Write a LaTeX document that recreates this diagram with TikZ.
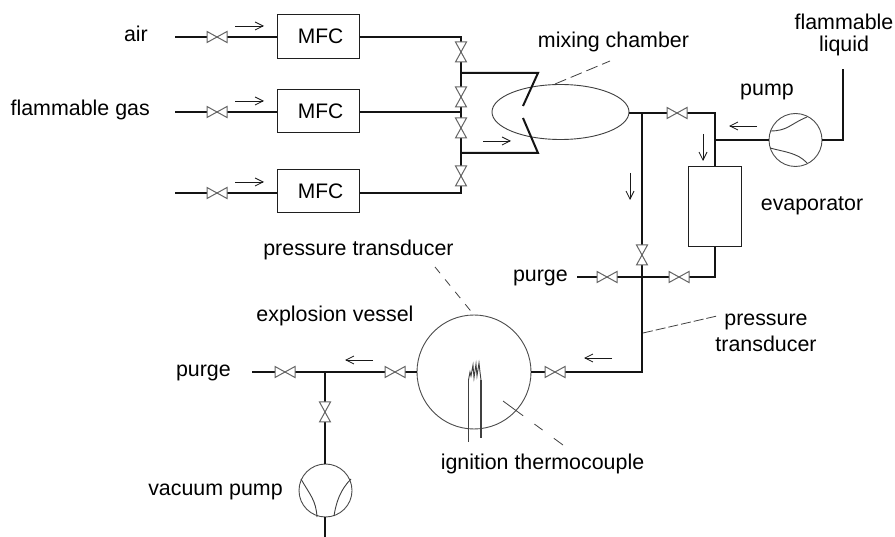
\documentclass[tikz,border=0pt]{standalone}
\usepackage{fontspec}
\setmainfont{Liberation Sans}
\usetikzlibrary{arrows.meta,shapes.geometric}
\tikzset{
  x=1pt,y=-1pt,
  pipe/.style={line width=2pt,black!92,line cap=butt,line join=miter},
  thinline/.style={line width=0.9pt,black!75},
  flow/.style={line width=0.8pt,black!90,-{Straight Barb[length=8pt,width=8pt,line width=0.8pt]}},
  leader/.style={line width=0.8pt,black!75,dash pattern=on 10pt off 6pt},
  mfc/.style={draw,line width=1pt,black!88,text=black,fill=white,minimum width=82pt,minimum height=44pt,inner sep=0pt,font=\fontsize{21}{25}\selectfont},
  vessel/.style={draw,circle,line width=0.9pt,black!70,inner sep=0pt},
  chamber/.style={draw,ellipse,line width=0.9pt,black!75,inner sep=0pt,minimum width=137pt,minimum height=55pt},
  lab/.style={font=\fontsize{21.4}{22}\selectfont,inner sep=0pt,text=black,align=center,anchor=base},
  valve/.pic={\draw[line width=1pt,black!60,fill=white] (-10,-5.5) -- (10,5.5) -- (10,-5.5) -- (-10,5.5) -- cycle;},
}
\begin{document}
\begin{tikzpicture}
\useasboundingbox (0,0) rectangle (895,537);
\fill[white] (0,0) rectangle (895,537);
% equipment
\node[mfc] (m1) at (318,36.5) {\hspace*{5pt}MFC};
\node[mfc,minimum height=43pt] (m2) at (318,111.5) {\hspace*{5pt}MFC};
\node[mfc,minimum height=43pt] (m3) at (318,191.5) {\hspace*{5pt}MFC};
\node[mfc,minimum width=53pt,minimum height=80pt] (evap) at (714.5,207) {};
\node[chamber] (mix) at (560.5,112) {};
\node[vessel,minimum size=53pt] (lp) at (795.5,140) {};
\node[vessel,minimum size=114pt] (ev) at (474,372) {};
\node[vessel,minimum size=53pt] (vp) at (325.5,490.5) {};
% coordinates
\coordinate (a0) at (175,37);
\coordinate (b0) at (175,112);
\coordinate (c0) at (175,193);
\coordinate (h1) at (461,37);
\coordinate (h2) at (461,73);
\coordinate (h3) at (461,112);
\coordinate (h4) at (461,153);
\coordinate (h5) at (461,193);
\coordinate (t1) at (538,73);
\coordinate (t1e) at (523,106);
\coordinate (t2) at (538,153);
\coordinate (t2e) at (523,118);
\coordinate (j1) at (642,113);
\coordinate (j2) at (715,113);
\coordinate (j3) at (715,140);
\coordinate (j4) at (715,277);
\coordinate (j5) at (642,277);
\coordinate (j6) at (577,277);
\coordinate (j7) at (642,372);
\coordinate (l1) at (843,140);
\coordinate (l2) at (843,69);
\coordinate (p1) at (325,372);
\coordinate (p2) at (252,372);
\coordinate (v0) at (325,537);
% pipes
\draw[pipe] (a0) -- (a0 -| m1.west);
\draw[pipe] (b0) -- (b0 -| m2.west);
\draw[pipe,line width=1.6pt] (c0) -- (c0 -| m3.west);
\draw[pipe] (h1 -| m1.east) -- (h1) -- (h5) -- (h5 -| m3.east);
\draw[pipe] (h3 -| m2.east) -- (h3);
\draw[pipe] (h2) -- (t1) -- (t1e);
\draw[pipe] (h4) -- (t2) -- (t2e);
\draw[pipe] (mix.east |- j2) -- (j2) -- (evap.north -| j2);
\draw[pipe] (j1) -- (j7) -- (ev.east);
\draw[pipe] (evap.south -| j4) -- (j4) -- (j6);
\draw[pipe] (j3) -- (lp.west);
\draw[pipe] (lp.east) -- (l1) -- (l2);
\draw[pipe] (ev.west) -- (p2);
\draw[pipe] (p1) -- (vp.north -| p1);
\draw[pipe] (vp.south -| v0) -- (v0);
% valves
\path (217,37) pic {valve} (217,112) pic {valve} (217,193) pic {valve};
\path (461,52) pic[rotate=90] {valve} (461,97) pic[rotate=90] {valve}
      (461,128) pic[rotate=90] {valve} (461,176) pic[rotate=90] {valve};
\path (677,113) pic {valve} (679,277) pic {valve} (607,277) pic {valve}
      (642,255) pic[rotate=90] {valve} (555,372) pic {valve}
      (395,372) pic {valve} (285,372) pic {valve} (325,412) pic[rotate=90] {valve};
% pump internals
\draw[thinline] (770,131) .. controls (788,131) and (790,124) .. (807,117);
\draw[thinline] (770,148) .. controls (785,152) and (798,153) .. (807,163);
\draw[thinline] (301,479) .. controls (310,495) and (316,500) .. (317,517);
\draw[thinline] (351,479) .. controls (340,490) and (336,503) .. (334,516);
% thermocouple
\draw[thinline] (468.5,380) -- (468.5,442);
\draw[line width=1.2pt,black!75] (481,380) -- (481,438);
\draw[thinline] (468.5,380) -- (470,372) -- (471,376) -- (473,365) -- (474,378) -- (476,364) -- (477,376) -- (479,363) -- (480,372) -- (481,380);
% flow arrows
\draw[flow] (235,26) -- (264,26);
\draw[flow] (235,101) -- (264,101);
\draw[flow] (235,182) -- (264,182);
\draw[flow] (483,141) -- (511,141);
\draw[flow] (757,126) -- (729,126);
\draw[flow] (703,134) -- (703,161);
\draw[flow] (630,173) -- (630,200);
\draw[flow] (612,358) -- (584,358);
\draw[flow] (373,360) -- (345,360);
% leaders
\draw[leader,dash pattern=on 12pt off 5pt] (555,84) -- (610,61);
\draw[leader,dash pattern=on 8pt off 8pt] (435,267) -- (474,315);
\draw[leader,dash pattern=on 10pt off 3pt] (643,333) -- (717,316);
\draw[leader,dash pattern=on 25pt off 14pt on 10pt off 14pt] (503,401) -- (563,445);
% labels
\node[lab,anchor=base east] (Ta) at (148,42) {air};
\node[lab,anchor=base east] (Tb) at (150,116) {flammable gas};
\node[lab] (Tc) at (613.5,48) {mixing chamber};
\node[lab,anchor=center] (Td) at (844,35) {flammable\\liquid};
\node[lab] (Te) at (767,96) {pump};
\node[lab] (Tf) at (812,211) {evaporator};
\node[lab] (Tg) at (358.5,256) {pressure transducer};
\node[lab] (Th) at (335,322) {explosion vessel};
\node[lab,anchor=base east] (Ti) at (568,282) {purge};
\node[lab,anchor=base east] (Tj) at (231,377) {purge};
\node[lab,anchor=center] (Tk) at (766,333) {pressure\\[4pt]transducer};
\node[lab] (Tl) at (542.5,469) {ignition thermocouple};
\node[lab] (Tm) at (215.5,495) {vacuum pump};
\end{tikzpicture}
\end{document}
